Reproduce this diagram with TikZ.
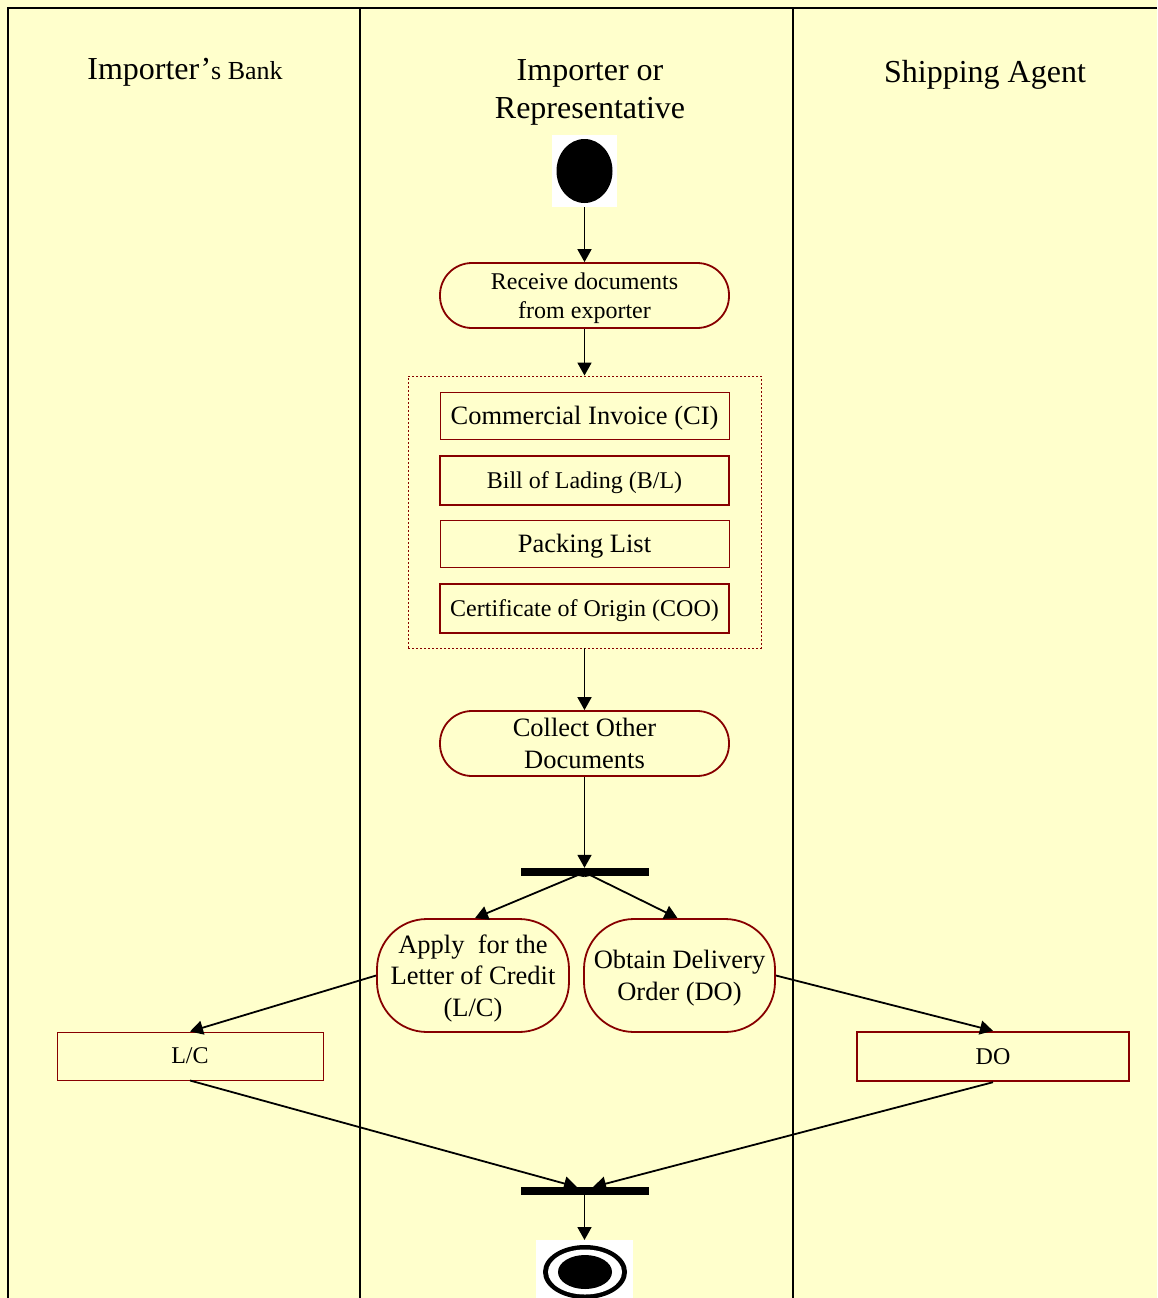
\documentclass[tikz,border=0pt]{standalone}
\usepackage{fontspec}
\setmainfont{Liberation Serif}
\usetikzlibrary{arrows.meta}
\definecolor{bgyellow}{RGB}{255,255,204}
\definecolor{darkred}{RGB}{135,0,0}
\begin{document}
\begin{tikzpicture}[x=1pt,y=-1pt,
  act/.style={draw=darkred,line width=1.8pt,fill=bgyellow,rounded corners=#1,inner sep=0pt,align=center,text depth=0pt,font=\fontsize{24}{30}\selectfont},
  docthin/.style={draw=darkred,line width=1pt,fill=bgyellow,inner sep=0pt,align=center,text depth=0pt,minimum width=289pt},
  docthick/.style={draw=darkred,line width=2.4pt,fill=bgyellow,inner sep=0pt,align=center,text depth=0pt,minimum width=289pt},
  bar/.style={fill=black,inner sep=0pt,minimum width=128pt,minimum height=8pt},
  flow/.style={line width=1.8pt,-{Triangle[length=13pt,width=14pt]}},
  lane/.style={line width=2.8pt},
  hdr/.style={align=center,font=\fontsize{32}{38}\selectfont}
]
\useasboundingbox (0,0) rectangle (1157,1298);
\fill[bgyellow] (0,0) rectangle (1157,1298);
% frame and lanes
\draw[line width=1.8pt] (8,1298) -- (8,8) -- (1157,8);
\draw[lane] (360,8) -- (360,1298);
\draw[lane] (793,8) -- (793,1298);
% headers
\node[hdr,anchor=base] (h1) at (185,80) {Importer’{\fontsize{26}{30}\selectfont s Bank}};
\node[hdr,anchor=base] (h2) at (590,118) {Importer or\\Representative};
\node[hdr,anchor=base] (h3) at (985,82) {Shipping Agent};
% start
\node[fill=white,minimum width=65pt,minimum height=72pt,inner sep=0pt] (start) at (584.5,171) {};
\fill[black] (start.center) ellipse [x radius=28pt,y radius=32pt];
% activities
\node[act=32pt,minimum width=289pt,minimum height=65pt] (recv) at (584.5,295.5) {Receive documents\\[-1pt]from exporter};
\node[draw=darkred,dashed,dash pattern=on 2pt off 2pt,line width=0.9pt,minimum width=353pt,minimum height=272pt,inner sep=0pt] (docs) at (584.5,512) {};
\node[docthin,minimum height=47pt,font=\fontsize{26.5}{30}\selectfont] (ci) at (584.5,415.5) {Commercial Invoice (CI)};
\node[docthick,minimum height=49pt,font=\fontsize{24}{30}\selectfont] (bl) at (584.5,480.5) {Bill of Lading (B/L)};
\node[docthin,minimum height=47pt,font=\fontsize{26.5}{30}\selectfont] (pl) at (584.5,543.5) {Packing List};
\node[docthick,minimum height=49pt,font=\fontsize{24}{30}\selectfont] (coo) at (584.5,608.5) {Certificate of Origin (COO)};
\node[act=32pt,minimum width=289pt,minimum height=65pt,font=\fontsize{26.5}{32}\selectfont] (coll) at (584.5,743.5) {Collect Other\\Documents};
\node[bar] (fork) at (584.5,872) {};
\node[act=50pt,minimum width=192pt,minimum height=113pt,font=\fontsize{26.5}{31.5}\selectfont] (apply) at (473,975.5) {Apply~~for the\\Letter of Credit\\(L/C)};
\node[act=50pt,minimum width=191pt,minimum height=113pt,font=\fontsize{26.5}{32}\selectfont] (obtain) at (679.5,975.5) {Obtain Delivery\\Order (DO)};
\node[draw=darkred,line width=1pt,fill=bgyellow,minimum width=266pt,minimum height=48pt,inner sep=0pt,text depth=0pt,font=\fontsize{24}{30}\selectfont] (lc) at (190,1056) {L/C};
\node[draw=darkred,line width=2.4pt,fill=bgyellow,minimum width=272pt,minimum height=49pt,inner sep=0pt,text depth=0pt,font=\fontsize{24}{30}\selectfont] (do) at (993,1056.5) {DO};
\node[bar] (join) at (584.5,1191) {};
% end
\node[fill=white,minimum width=97pt,minimum height=58pt,inner sep=0pt,anchor=north] (end) at (584.5,1240) {};
\fill[black] (585,1272) ellipse [x radius=42pt,y radius=27pt];
\fill[white] (585,1272) ellipse [x radius=37pt,y radius=22.5pt];
\fill[black] (585,1272) ellipse [x radius=27pt,y radius=17pt];
% connectors
\coordinate (fl) at (578,875);
\coordinate (fr) at (590,875);
\coordinate (jl) at (577,1187);
\coordinate (jr) at (593,1187);
\draw[flow] (start.south) -- (recv.north);
\draw[flow] (recv.south) -- (docs.north);
\draw[flow] (docs.south) -- (coll.north);
\draw[flow] (coll.south) -- (fork.north);
\draw[line width=1.8pt] (fork.south) -- (fl);
\draw[line width=1.8pt] (fork.south) -- (fr);
\draw[flow] (fl) -- ([xshift=2pt]apply.north);
\draw[flow] (fr) -- ([xshift=-2pt]obtain.north);
\draw[flow] (apply.west) -- (lc.north);
\draw[flow] (obtain.east) -- (do.north);
\draw[flow] (lc.south) -- (jl);
\draw[flow] (do.south) -- (jr);
\draw[flow] (join.south) -- (end.north);
\end{tikzpicture}
\end{document}
